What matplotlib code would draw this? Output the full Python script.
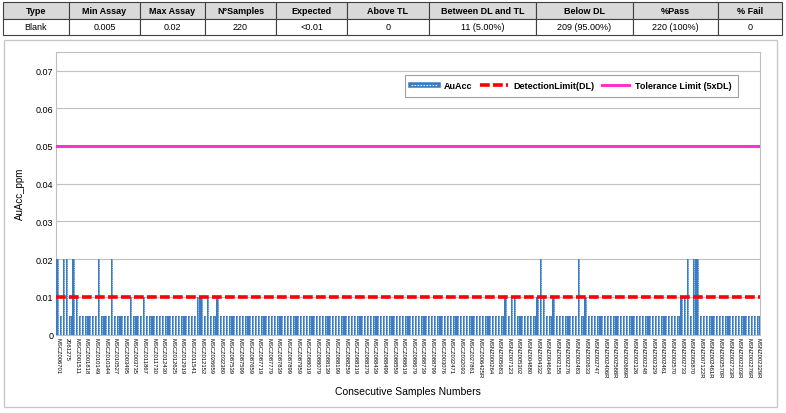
import numpy as np
import matplotlib.pyplot as plt
from matplotlib.lines import Line2D
from matplotlib.patches import Rectangle
from matplotlib.legend_handler import HandlerTuple

plt.rcParams['font.family'] = ['Liberation Sans', 'DejaVu Sans']

##############
# data
##############

table_cols = ['Type', 'Min Assay', 'Max Assay', 'N°Samples', 'Expected', 'Above TL',
              'Between DL and TL', 'Below DL', '%Pass', '% Fail']
table_vals = ['Blank', '0.005', '0.02', '220', '<0.01', '0',
              '11 (5.00%)', '209 (95.00%)', '220 (100%)', '0']

au_acc = [
    0.02, 0.005, 0.02, 0.02, 0.005, 0.02, 0.01, 0.005, 0.005, 0.005,
    0.005, 0.005, 0.005, 0.02, 0.005, 0.005, 0.005, 0.02, 0.005, 0.005,
    0.005, 0.005, 0.005, 0.01, 0.005, 0.005, 0.005, 0.01, 0.005, 0.005,
    0.005, 0.005, 0.005, 0.005, 0.005, 0.005, 0.005, 0.005, 0.005, 0.005,
    0.005, 0.005, 0.005, 0.005, 0.01, 0.01, 0.005, 0.01, 0.005, 0.005,
    0.01, 0.005, 0.005, 0.005, 0.005, 0.005, 0.005, 0.005, 0.005, 0.005,
    0.005, 0.005, 0.005, 0.005, 0.005, 0.005, 0.005, 0.005, 0.005, 0.005,
    0.005, 0.005, 0.005, 0.005, 0.005, 0.005, 0.005, 0.005, 0.005, 0.005,
    0.005, 0.005, 0.005, 0.005, 0.005, 0.005, 0.005, 0.005, 0.005, 0.005,
    0.005, 0.005, 0.005, 0.005, 0.005, 0.005, 0.005, 0.005, 0.005, 0.005,
    0.005, 0.005, 0.005, 0.005, 0.005, 0.005, 0.005, 0.005, 0.005, 0.005,
    0.005, 0.005, 0.005, 0.005, 0.005, 0.005, 0.005, 0.005, 0.005, 0.005,
    0.005, 0.005, 0.005, 0.005, 0.005, 0.005, 0.005, 0.005, 0.005, 0.005,
    0.005, 0.005, 0.005, 0.005, 0.005, 0.005, 0.005, 0.005, 0.005, 0.005,
    0.01, 0.005, 0.01, 0.01, 0.005, 0.005, 0.005, 0.005, 0.005, 0.005,
    0.01, 0.02, 0.01, 0.005, 0.005, 0.01, 0.005, 0.005, 0.005, 0.005,
    0.005, 0.005, 0.005, 0.02, 0.005, 0.01, 0.005, 0.005, 0.005, 0.005,
    0.005, 0.005, 0.005, 0.005, 0.005, 0.005, 0.005, 0.005, 0.005, 0.005,
    0.005, 0.005, 0.005, 0.005, 0.005, 0.005, 0.005, 0.005, 0.005, 0.005,
    0.005, 0.005, 0.005, 0.005, 0.005, 0.01, 0.01, 0.02, 0.005, 0.02,
    0.02, 0.005, 0.005, 0.005, 0.005, 0.005, 0.005, 0.005, 0.005, 0.005,
    0.005, 0.005, 0.005, 0.005, 0.005, 0.005, 0.005, 0.005, 0.005, 0.005,
]

# every third sample id is printed on the axis
sample_labels = [
    'MSCZ006701', '2061275', 'MSCZ001511', 'MSCZ001818', 'MSCZ010149', 'MSCZ010344',
    'MSCZ010527', 'MSCZ003495', 'MSCZ003735', 'MSCZ011867', 'MSCZ011730', 'MSCZ012430',
    'MSCZ012625', 'MSCZ012919', 'MSCZ011541', 'MSCZ012152', 'MSCZ026659', 'MSCZ032380',
    'MSCZ087539', 'MSCZ087599', 'MSCZ087659', 'MSCZ087719', 'MSCZ087779', 'MSCZ087839',
    'MSCZ087899', 'MSCZ087959', 'MSCZ088019', 'MSCZ088079', 'MSCZ088139', 'MSCZ088199',
    'MSCZ088259', 'MSCZ088319', 'MSCZ088379', 'MSCZ088439', 'MSCZ088499', 'MSCZ088559',
    'MSCZ088619', 'MSCZ088679', 'MSCZ088739', 'MSCZ088799', 'MSCZ003076', 'MSCZ032471',
    'MSCZ032093', 'MSCZ027861', 'MSCZ006425R', 'MSNZ000264', 'MSNZ005683', 'MSNZ007123',
    'MSNZ005302', 'MSNZ004880', 'MSNZ004332', 'MSNZ004664', 'MSNZ002155', 'MSNZ002276',
    'MSNZ002483', 'MSNZ002633', 'MSNZ002747', 'MSNZ002406R', 'MSNZ002588R', 'MSNZ002689R',
    'MSNZ002126', 'MSNZ002248', 'MSNZ002329', 'MSNZ002461', 'MSNZ002570', 'MSNZ002733',
    'MSNZ005870', 'MSNZ007122R', 'MSNZ002461R', 'MSNZ002570R', 'MSNZ002733R', 'MSNZ002203R',
    'MSNZ002276R', 'MSNZ002329R',
]

detection_limit = 0.01
tolerance_limit = 0.05

##############
# figure
##############

fig = plt.figure(figsize=(7.86, 4.14), dpi=100)

# chart frame
fig.patches.append(Rectangle((4 / 786, 1 - 408 / 414), 773 / 786, 367 / 414,
                             transform=fig.transFigure, fill=False,
                             edgecolor='#c8c8c8', linewidth=1))

# summary table on top
tax = fig.add_axes([3 / 786, 1 - 36 / 414, 779 / 786, 33 / 414])
tax.axis('off')
bounds = [3, 69, 140, 205, 276, 347, 429, 536, 633, 718, 782]
widths = np.diff(bounds) / (bounds[-1] - bounds[0])
tbl = tax.table(cellText=[table_vals], colLabels=table_cols, colWidths=widths,
                cellLoc='center', bbox=[0, 0, 1, 1])
tbl.auto_set_font_size(False)
for (r, c), cell in tbl.get_celld().items():
    cell.set_edgecolor('#404040')
    cell.set_linewidth(0.8)
    cell.get_text().set_fontsize(6.5)
    if r == 0:
        cell.set_facecolor('#d9d9d9')
        cell.get_text().set_fontweight('bold')

##############
# main plot
##############

ax = fig.add_axes([56 / 786, 1 - 335.5 / 414, 704 / 786, 282.8 / 414])
x = np.arange(len(au_acc))

ax.bar(x, au_acc, width=0.8, color='#3a7dc4', linewidth=0, zorder=3)
ax.vlines(x, 0, au_acc, colors='#e8f0fa', linestyles=(0, (1.5, 1.2)), linewidth=0.5, zorder=4)
ax.axhline(detection_limit, color='#ff0000', linewidth=2.6, linestyle=(0, (2.7, 0.9)), zorder=5)
ax.axhline(tolerance_limit, color='#ff33cc', linewidth=2.2, zorder=5)

ax.set_xlim(-0.5, len(au_acc) - 0.5)
ax.set_ylim(0, 0.075)
ax.set_yticks(np.arange(0, 0.071, 0.01))
ax.set_yticklabels(['0', '0.01', '0.02', '0.03', '0.04', '0.05', '0.06', '0.07'], fontsize=6.5)
ax.set_xticks(x[::3])
ax.set_xticklabels(sample_labels, rotation=270, fontsize=4.2)
ax.tick_params(length=0, pad=2)
ax.grid(axis='y', color='#c0c0c0', linewidth=0.8, zorder=0)
for s in ax.spines.values():
    s.set_color('#bfbfbf')

ax.set_ylabel('AuAcc_ppm', fontsize=7, labelpad=8)
ax.set_xlabel('Consecutive Samples Numbers', fontsize=7.5, labelpad=6)

h_au = (Line2D([], [], color='#3a7dc4', linewidth=4),
        Line2D([], [], color='#e8f0fa', linewidth=0.8, linestyle=(0, (1.5, 1.2))))
h_dl = Line2D([], [], color='#ff0000', linewidth=2.6, linestyle=(0, (2.7, 0.9)))
h_tl = Line2D([], [], color='#ff33cc', linewidth=2.2)
leg = ax.legend([h_au, h_dl, h_tl], ['AuAcc', 'DetectionLimit(DL)', 'Tolerance Limit (5xDL)'],
                handler_map={tuple: HandlerTuple(ndivide=1, pad=0)},
                ncol=3, loc='center', bbox_to_anchor=(0.732, 0.879),
                fancybox=False, framealpha=1, edgecolor='#a0a0a0',
                prop={'size': 6.5, 'weight': 'bold'}, handlelength=3.0,
                handletextpad=0.6, columnspacing=0.9, borderpad=0.7)
leg.get_frame().set_linewidth(0.8)

fig.savefig('out.png', dpi=100)
